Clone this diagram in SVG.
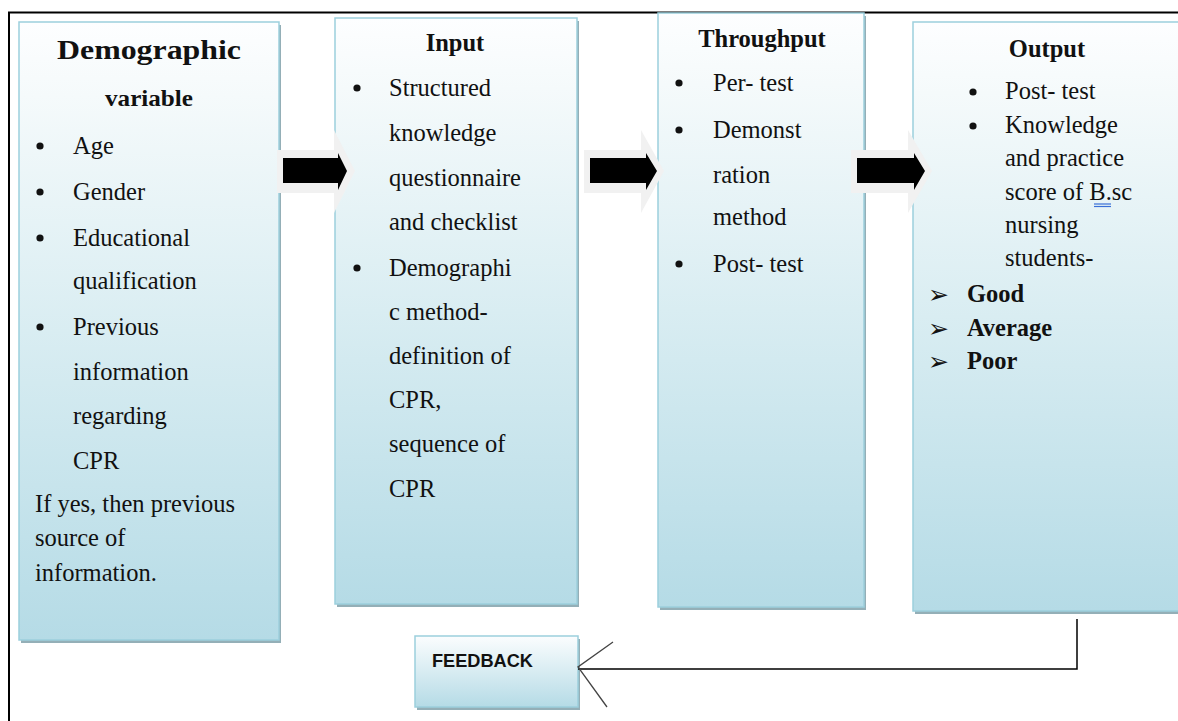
<svg xmlns="http://www.w3.org/2000/svg" width="1178" height="721" viewBox="0 0 1178 721">
<style>
.t{font-family:"Liberation Serif","Times New Roman",serif;font-size:24.5px;fill:#111}
.b{font-family:"Liberation Serif","Times New Roman",serif;font-weight:bold;fill:#111}
.bul{fill:#111}
.arr{font-family:"DejaVu Sans",sans-serif;font-size:25px;fill:#111}
.box{fill:url(#g);stroke:#9ccfdd;stroke-width:1.5}
.sh{fill:#94afb7}
.blk{fill:#000}
.glow{fill:#f1f1f1}
</style>
<defs>
<linearGradient id="g" x1="0" y1="0" x2="0" y2="1">
<stop offset="0" stop-color="#fdfeff"/>
<stop offset="0.12" stop-color="#f5fafb"/>
<stop offset="0.5" stop-color="#d9edf2"/>
<stop offset="1" stop-color="#b5dbe6"/>
</linearGradient>
<linearGradient id="gf" x1="0" y1="0" x2="0" y2="1">
<stop offset="0" stop-color="#fbfdfe"/>
<stop offset="1" stop-color="#b5dbe6"/>
</linearGradient>
</defs>
<rect width="1178" height="721" fill="#fff"/>
<!-- frame -->
<path d="M9,721 V12.5 H1178" fill="none" stroke="#000" stroke-width="2"/>

<g id="node-demographic">
<rect class="sh" x="21" y="25" width="260" height="618"/>
<rect class="box" x="19" y="22" width="260" height="618"/>
<text class="b" x="149" y="59" font-size="28" text-anchor="middle" textLength="184" lengthAdjust="spacingAndGlyphs">Demographic</text>
<text class="b" x="149" y="106" font-size="24" text-anchor="middle" textLength="88" lengthAdjust="spacingAndGlyphs">variable</text>
<circle class="bul" cx="40" cy="146" r="3.6"/><text class="t" x="73" y="154">Age</text>
<circle class="bul" cx="40" cy="192" r="3.6"/><text class="t" x="73" y="200">Gender</text>
<circle class="bul" cx="40" cy="238" r="3.6"/><text class="t" x="73" y="246">Educational</text>
<text class="t" x="73" y="289">qualification</text>
<circle class="bul" cx="40" cy="327" r="3.6"/><text class="t" x="73" y="335">Previous</text>
<text class="t" x="73" y="380">information</text>
<text class="t" x="73" y="424">regarding</text>
<text class="t" x="73" y="469">CPR</text>
<text class="t" x="35" y="512">If yes, then previous</text>
<text class="t" x="35" y="546">source of</text>
<text class="t" x="35" y="581">information.</text>
</g>

<g id="node-input">
<rect class="sh" x="337" y="21" width="242" height="586"/>
<rect class="box" x="335" y="18" width="242" height="586"/>
<text class="b" x="455" y="51" font-size="24.5" text-anchor="middle">Input</text>
<circle class="bul" cx="357" cy="88" r="3.6"/><text class="t" x="389" y="96">Structured</text>
<text class="t" x="389" y="141">knowledge</text>
<text class="t" x="389" y="186">questionnaire</text>
<text class="t" x="389" y="230">and checklist</text>
<circle class="bul" cx="357" cy="268" r="3.6"/><text class="t" x="389" y="276">Demographi</text>
<text class="t" x="389" y="320">c method-</text>
<text class="t" x="389" y="364">definition of</text>
<text class="t" x="389" y="408">CPR,</text>
<text class="t" x="389" y="452">sequence of</text>
<text class="t" x="389" y="497">CPR</text>
</g>

<g id="node-throughput">
<rect class="sh" x="660" y="16" width="206" height="594"/>
<rect class="box" x="658" y="13" width="206" height="594"/>
<text class="b" x="762" y="47" font-size="24.5" text-anchor="middle">Throughput</text>
<circle class="bul" cx="679" cy="83" r="3.6"/><text class="t" x="713" y="91">Per- test</text>
<circle class="bul" cx="679" cy="130" r="3.6"/><text class="t" x="713" y="138">Demonst</text>
<text class="t" x="713" y="183">ration</text>
<text class="t" x="713" y="225">method</text>
<circle class="bul" cx="679" cy="264" r="3.6"/><text class="t" x="713" y="272">Post- test</text>
</g>

<g id="node-output">
<rect class="sh" x="915" y="25" width="270" height="589"/>
<rect class="box" x="913" y="22" width="270" height="589"/>
<text class="b" x="1047" y="57" font-size="24.5" text-anchor="middle">Output</text>
<circle class="bul" cx="973" cy="92" r="3.6"/><text class="t" x="1005" y="99">Post- test</text>
<circle class="bul" cx="973" cy="126" r="3.6"/><text class="t" x="1005" y="133">Knowledge</text>
<text class="t" x="1005" y="166">and practice</text>
<text class="t" x="1005" y="200">score of B.sc</text>
<line x1="1094" y1="204" x2="1111" y2="204" stroke="#3a6fd8" stroke-width="1.2"/>
<line x1="1094" y1="206.5" x2="1111" y2="206.5" stroke="#3a6fd8" stroke-width="1.2"/>
<text class="t" x="1005" y="233">nursing</text>
<text class="t" x="1005" y="266">students-</text>
<text class="arr" x="928" y="303">➢</text><text class="b" x="967" y="302" font-size="24.5">Good</text>
<text class="arr" x="928" y="337">➢</text><text class="b" x="967" y="336" font-size="24.5">Average</text>
<text class="arr" x="928" y="370">➢</text><text class="b" x="967" y="369" font-size="24.5">Poor</text>
</g>

<g id="node-feedback">
<rect class="sh" x="417" y="639" width="163" height="71"/>
<rect x="415" y="636" width="163" height="71" fill="url(#gf)" stroke="#9ccfdd" stroke-width="1.5"/>
<text x="432" y="667" font-family="Liberation Sans, Arial, sans-serif" font-weight="bold" font-size="18" fill="#111" textLength="101" lengthAdjust="spacingAndGlyphs">FEEDBACK</text>
</g>

<g id="connectors">
<polygon class="glow" points="277,150 334,150 334,130 355,171 334,213 334,193 277,193"/>
<polygon class="blk" points="283,158 338,158 338,153 347,171 338,190 338,183 283,183"/>
<polygon class="glow" points="584,150 641,150 641,130 664,171 641,213 641,193 584,193"/>
<polygon class="blk" points="590,158 646,158 646,153 657,171 646,190 646,183 590,183"/>
<polygon class="glow" points="851,150 908,150 908,130 932,171 908,213 908,193 851,193"/>
<polygon class="blk" points="857,158 914,158 914,153 925,171 914,190 914,183 857,183"/>
<path d="M1077,619 V669 H578" fill="none" stroke="#000" stroke-width="1.5"/>
<path d="M613,642 L578,667 L607,707" fill="none" stroke="#444" stroke-width="1.3"/>
</g>
</svg>
